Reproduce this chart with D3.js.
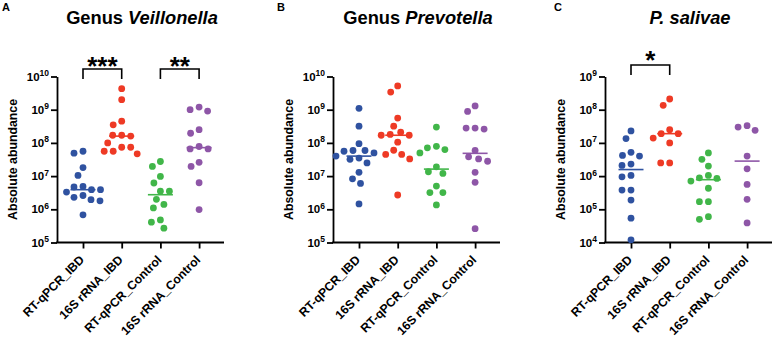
<!DOCTYPE html>
<html>
<head>
<meta charset="utf-8">
<script src="https://cdn.jsdelivr.net/npm/d3@7"></script>
<style>
  body { margin: 0; background: #fff; }
  svg { display: block; font-family: 'Liberation Sans', Arial, sans-serif; }
</style>
</head>
<body>
<svg id="chart" width="775" height="338"></svg>
<script>
const categories = ['RT-qPCR_IBD', '16S rRNA_IBD', 'RT-qPCR_Control', '16S rRNA_Control']
const groupColors = ['#2f52a0', '#ee3a25', '#41b649', '#8e56a7']

// Panel A - Genus Veillonella
const veillonellaRtIbd = [4.9e7, 5.6e7, 1.8e7, 1.05e7, 4.7e6, 4.9e6, 3.9e6, 3.9e6, 3.3e6, 2.6e6, 2.3e6, 1.8e6, 1.95e6, 6.8e5]
const veillonellaSeqIbd = [4.3e9, 2.0e9, 4.5e8, 3.5e8, 1.7e8, 1.6e8, 1.7e8, 1.0e8, 7.4e7, 7.4e7, 5.6e7, 5.6e7, 4.7e7]
const veillonellaRtCtl = [2.75e7, 1.95e7, 9.8e6, 6.2e6, 3.5e6, 3.5e6, 2.0e6, 1.4e6, 1.1e6, 4.8e5, 4.1e5, 2.7e5]
const veillonellaSeqCtl = [1.2e9, 1.0e9, 9.1e8, 2.5e8, 1.95e8, 7.8e7, 6.6e7, 6.6e7, 2.6e7, 1.95e7, 6.3e6, 9.8e5]

// Panel B - Genus Prevotella
const prevotellaRtIbd = [1.1e9, 3.2e8, 9.5e7, 5.0e7, 5.6e7, 5.9e7, 5.9e7, 3.5e7, 4.0e7, 3.2e7, 2.5e7, 1.3e7, 8.3e6, 6.0e6, 1.45e6]
const prevotellaSeqIbd = [5.2e9, 3.4e9, 5.6e8, 3.2e8, 2.1e8, 1.8e8, 1.7e8, 1.7e8, 1.05e8, 6.0e7, 4.5e7, 4.5e7, 3.3e7, 2.7e6]
const prevotellaRtCtl = [3.0e8, 6.3e7, 7.9e7, 7.1e7, 5.0e7, 1.9e7, 1.2e7, 1.35e7, 5.0e6, 3.2e6, 3.2e6, 1.35e6]
const prevotellaSeqCtl = [1.3e9, 8.9e8, 2.8e8, 2.8e8, 2.6e8, 5.9e7, 3.8e7, 2.8e7, 3.3e7, 1.3e7, 6.5e6, 2.6e5]

// Panel C - P. salivae
const salivaeRtIbd = [2.3e7, 1.35e7, 4.2e6, 5.2e6, 4.0e6, 2.3e6, 2.1e6, 1.05e6, 9.5e5, 3.8e5, 3.8e5, 1.9e5, 5.4e4, 1.2e4]
const salivaeSeqIbd = [2.1e8, 1.35e8, 2.5e7, 1.9e7, 1.9e7, 1.4e7, 1.0e7, 2.5e6, 2.5e6]
const salivaeRtCtl = [5.0e6, 3.2e6, 2.0e6, 8.9e5, 1.05e6, 8.5e5, 7.1e5, 4.3e5, 1.7e5, 1.7e5, 5.0e4, 6.0e4]
const salivaeSeqCtl = [3.3e7, 2.4e7, 3.0e7, 4.0e6, 1.66e6, 5.6e5, 2.0e5, 3.9e4]

// significance brackets: [from group, to group, label]
const veillonellaSig = [[0, 1, '***'], [2, 3, '**']]
const prevotellaSig = []
const salivaeSig = [[0, 1, '*']]

const panels = [
  { letter: 'A', title: [['Genus ', 'normal'], ['Veillonella', 'italic']], series: [veillonellaRtIbd, veillonellaSeqIbd, veillonellaRtCtl, veillonellaSeqCtl], yDomain: [1e5, 1e10], sig: veillonellaSig, axisX: 57, letterX: 2, barY: 69, starY: 75 },
  { letter: 'B', title: [['Genus ', 'normal'], ['Prevotella', 'italic']], series: [prevotellaRtIbd, prevotellaSeqIbd, prevotellaRtCtl, prevotellaSeqCtl], yDomain: [1e5, 1e10], sig: prevotellaSig, axisX: 333, letterX: 277, barY: 69, starY: 75 },
  { letter: 'C', title: [['P. salivae', 'italic']], series: [salivaeRtIbd, salivaeSeqIbd, salivaeRtCtl, salivaeSeqCtl], yDomain: [1e4, 1e9], sig: salivaeSig, axisX: 605, letterX: 554, barY: 65, starY: 69 }
]

const yTop = 76.5
const yBottom = 242.5
const axisLen = 167
const firstCat = 26
const catStep = 38.7
const dotR = 3.4

const svg = d3.select('#chart')

// simple beeswarm: place each dot at the smallest offset that does not collide
function swarm (values, y, cx, minDist) {
  const placed = []
  values.slice().sort((a, b) => b - a).forEach(v => {
    const py = y(v)
    let off = 0
    for (let k = 0; k < 400; k++) {
      const cand = k === 0 ? 0 : (k % 2 ? -1 : 1) * Math.ceil(k / 2) * 0.5
      if (placed.every(p => Math.hypot(p.x - cand, p.y - py) >= minDist)) { off = cand; break }
    }
    placed.push({ x: off, y: py })
  })
  return placed.map(p => ({ cx: cx + p.x, cy: p.y }))
}

panels.forEach(panel => {
  const g = svg.append('g')
  const x0 = panel.axisX

  const xScale = d3.scalePoint()
    .domain(categories)
    .range([x0 + firstCat, x0 + firstCat + catStep * (categories.length - 1)])

  const yScale = d3.scaleLog()
    .domain(panel.yDomain)
    .range([yBottom, yTop])

  const lo = Math.round(Math.log10(panel.yDomain[0]))
  const hi = Math.round(Math.log10(panel.yDomain[1]))

  // panel letter
  g.append('text')
    .attr('x', panel.letterX)
    .attr('y', 11)
    .attr('font-size', '11px')
    .attr('font-weight', 'bold')
    .text(panel.letter)

  // title
  const title = g.append('text')
    .attr('x', x0 + 85)
    .attr('y', 24)
    .attr('text-anchor', 'middle')
    .attr('font-size', '18.3px')
    .attr('font-weight', 'bold')
  panel.title.forEach(([t, st]) => title.append('tspan').attr('font-style', st).text(t))

  // y axis
  const yAxis = d3.axisLeft(yScale)
    .tickValues(d3.range(lo, hi + 1).map(e => Math.pow(10, e)))
    .tickSize(6)
    .tickSizeOuter(0)
    .tickPadding(2)

  const yG = g.append('g')
    .attr('transform', `translate(${x0}, 0)`)
    .call(yAxis)
  yG.select('.domain').attr('stroke-width', 1.8)
  yG.selectAll('.tick line').attr('stroke-width', 1.8)
  yG.selectAll('.tick text')
    .attr('font-size', '11.5px')
    .attr('font-weight', 'bold')
    .attr('fill', '#000')
    .each(function (d) {
      const t = d3.select(this).text('')
      t.append('tspan').text('10')
      t.append('tspan').attr('font-size', '8.5px').attr('dy', '-0.55em').text(Math.round(Math.log10(d)))
    })

  // y label
  g.append('text')
    .attr('transform', `translate(${x0 - 40}, ${(yTop + yBottom) / 2}) rotate(-90)`)
    .attr('text-anchor', 'middle')
    .attr('font-size', '12.3px')
    .attr('font-weight', 'bold')
    .text('Absolute abundance')

  // x axis
  g.append('line')
    .attr('x1', x0 - 0.9)
    .attr('x2', x0 + axisLen)
    .attr('y1', yBottom)
    .attr('y2', yBottom)
    .attr('stroke', '#000')
    .attr('stroke-width', 1.8)

  const xAxis = d3.axisBottom(xScale)
    .tickSize(6)
    .tickSizeOuter(0)

  const xG = g.append('g')
    .attr('transform', `translate(0, ${yBottom})`)
    .call(xAxis)
  xG.select('.domain').remove()
  xG.selectAll('.tick line').attr('stroke-width', 1.8)
  xG.selectAll('.tick text')
    .attr('x', 0)
    .attr('y', 0)
    .attr('dy', 0)
    .attr('font-size', '12.2px')
    .attr('font-weight', 'bold')
    .attr('fill', '#000')
    .style('text-anchor', 'end')
    .attr('transform', 'translate(1.5, 18) rotate(-45)')

  // dots and medians
  panel.series.forEach((vals, i) => {
    const cx = xScale(categories[i])
    const pts = swarm(vals, yScale, cx, 9)
    g.append('g')
      .selectAll('circle')
      .data(pts)
      .enter().append('circle')
      .attr('cx', d => d.cx)
      .attr('cy', d => d.cy)
      .attr('r', dotR)
      .attr('fill', groupColors[i])

    const med = d3.median(vals)
    g.append('line')
      .attr('x1', cx - 12.5)
      .attr('x2', cx + 12.5)
      .attr('y1', yScale(med))
      .attr('y2', yScale(med))
      .attr('stroke', groupColors[i])
      .attr('stroke-width', 1.6)
  })

  // significance brackets
  panel.sig.forEach(([a, b, label]) => {
    const xa = xScale(categories[a])
    const xb = xScale(categories[b])
    g.append('path')
      .attr('d', `M${xa},${panel.barY + 10}V${panel.barY}H${xb}V${panel.barY + 10}`)
      .attr('fill', 'none')
      .attr('stroke', '#000')
      .attr('stroke-width', 1.6)
    g.append('text')
      .attr('x', (xa + xb) / 2)
      .attr('y', panel.starY)
      .attr('text-anchor', 'middle')
      .attr('font-size', '26px')
      .attr('font-weight', 'bold')
      .text(label)
  })
})
</script>
</body>
</html>
